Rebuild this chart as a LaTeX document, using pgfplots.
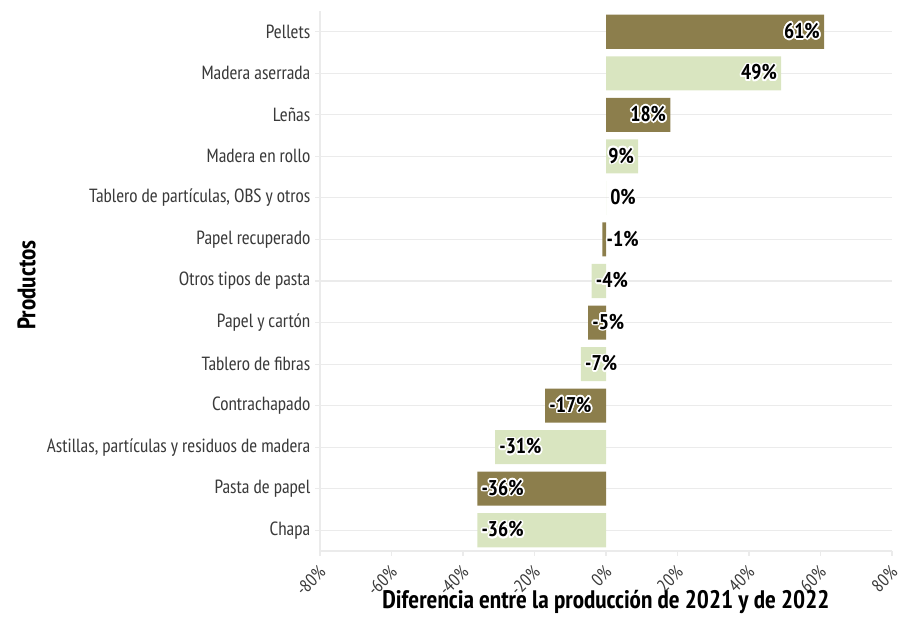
\documentclass[border=0pt]{standalone}
\usepackage{pgfplots}
\pgfplotsset{compat=1.18}
\usepackage{fontspec}
\setmainfont{PT Sans Narrow}
\usepackage{contour}
\contourlength{1.2pt}
\contournumber{16}

\definecolor{barDark}{HTML}{8C7E4C}
\definecolor{barLight}{HTML}{D9E5C0}
\definecolor{axGray}{HTML}{EBEBEB}
\definecolor{txtGray}{HTML}{3A3A3A}

\begin{document}
\begin{tikzpicture}
% page = 902 x 638 px at 0.75 pt per px, axis box from (320,550) to (892,10)
\useasboundingbox (-240pt,-66pt) rectangle (436.5pt,413.25pt);
\begin{axis}[
  name=ax,
  at={(0,0)}, anchor=south west,
  scale only axis,
  width=429pt, height=405pt,
  xmin=-80, xmax=80,
  ymin=-0.5, ymax=12.5,
  xbar, bar width=0.82, bar shift=0pt,
  axis lines*=left,
  axis line style={draw=axGray, line width=0.8pt},
  tick style={draw=axGray, line width=0.8pt},
  tick align=outside,
  major tick length=3.75pt,
  ymajorgrids, grid style={draw=axGray, line width=0.8pt},
  xtick={-80,-60,-40,-20,0,20,40,60,80},
  xticklabels={-80\%,-60\%,-40\%,-20\%,0\%,20\%,40\%,60\%,80\%},
  xticklabel shift=3pt,
  xticklabel style={rotate=45, anchor=north east, xshift=-2.5pt, font=\fontsize{13.5}{15}\selectfont, text=txtGray, inner sep=1pt},
  ytick={0,...,12},
  yticklabels={Chapa, Pasta de papel, {Astillas, partículas y residuos de madera}, Contrachapado, Tablero de fibras, Papel y cartón, Otros tipos de pasta, Papel recuperado, {Tablero de partículas, OBS y otros}, Madera en rollo, Leñas, Madera aserrada, Pellets},
  yticklabel style={font=\fontsize{14.3}{16}\selectfont, text=txtGray},
  xlabel={Diferencia entre la producción de 2021 y de 2022},
  xlabel style={at={(rel axis cs:0.5,0)}, anchor=center, yshift=-38.5pt, font=\bfseries\fontsize{19}{22}\selectfont},
  clip=false,
]
% dark bars
\addplot[fill=barDark, draw=none] coordinates {
  (-36,1) (-17,3) (-5,5) (-1,7) (18,10) (61,12)
};
% light bars
\addplot[fill=barLight, draw=none] coordinates {
  (-36,0) (-31,2) (-7,4) (-4,6) (0,8) (9,9) (49,11)
};
% labels for positive values (right aligned at bar end)
\addplot[draw=none, xbar=false, nodes near coords={\contour{white}{\pgfplotspointmeta}}, point meta=explicit symbolic,
  every node near coord/.style={anchor=east, inner sep=3pt, font=\bfseries\fontsize{16}{18}\selectfont}]
  coordinates {
  (61,12) [61\%]
  (49,11) [49\%]
  (18,10) [18\%]
  (9,9) [9\%]
};
% labels for zero and negative values (left aligned at bar end)
\addplot[draw=none, xbar=false, nodes near coords={\contour{white}{\pgfplotspointmeta}}, point meta=explicit symbolic,
  every node near coord/.style={anchor=west, inner sep=3pt, font=\bfseries\fontsize{16}{18}\selectfont}]
  coordinates {
  (0,8) [0\%]
  (-1,7) [-1\%]
  (-4,6) [-4\%]
  (-5,5) [-5\%]
  (-7,4) [-7\%]
  (-17,3) [-17\%]
  (-31,2) [-31\%]
  (-36,1) [-36\%]
  (-36,0) [-36\%]
};
\end{axis}
% y axis title
\node[rotate=90, anchor=south, inner sep=0pt, font=\bfseries\fontsize{19}{22}\selectfont]
  at ([xshift=-213pt, yshift=-3pt]ax.west) {Productos};
\end{tikzpicture}
\end{document}
